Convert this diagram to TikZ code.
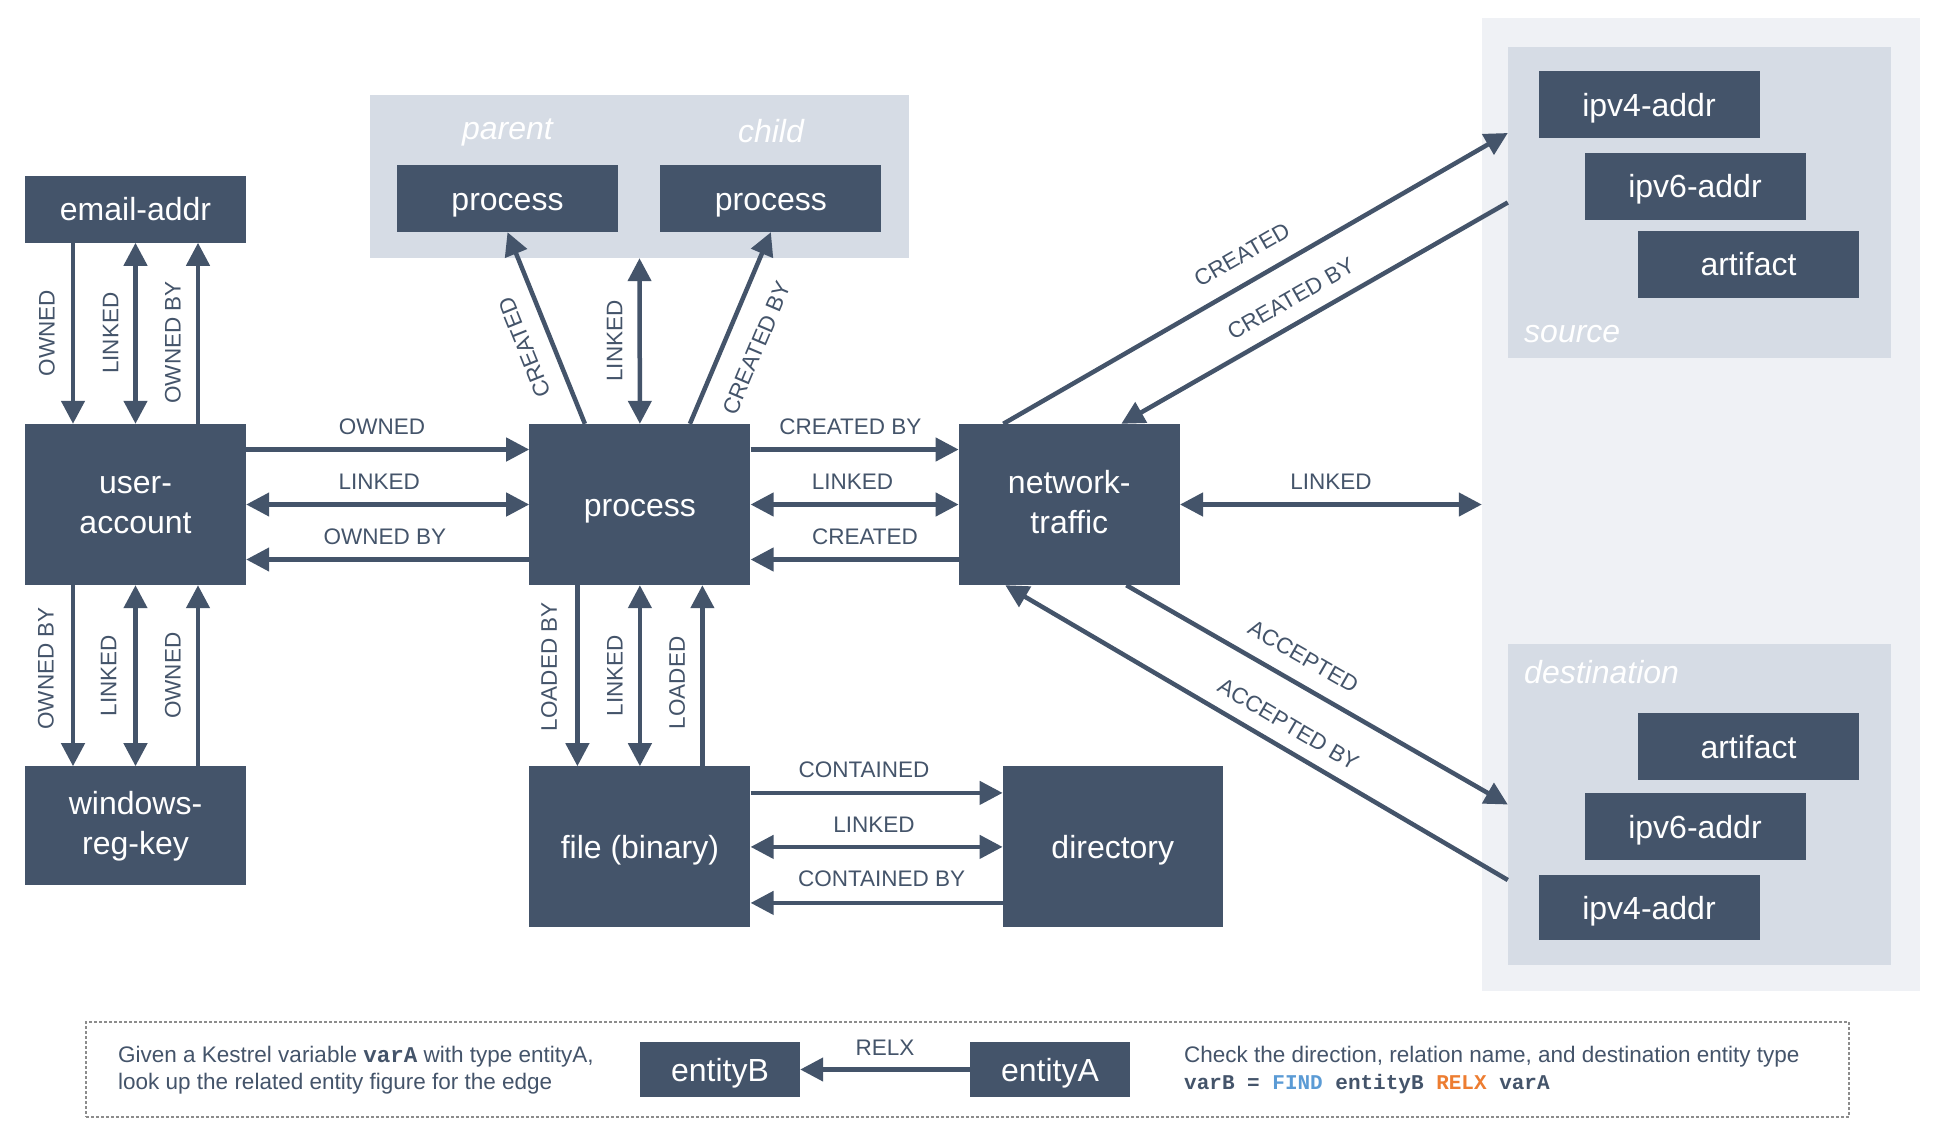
\documentclass[tikz,border=0pt]{standalone}
\usepackage{fontspec}
\setmainfont{Liberation Sans}
\setmonofont{Liberation Mono}
\usepackage{xcolor}
\definecolor{slate}{HTML}{44546A}
\definecolor{groupgray}{HTML}{D6DCE5}
\definecolor{outergray}{HTML}{EFF1F5}
\definecolor{findblue}{HTML}{5B9BD5}
\definecolor{relxorange}{HTML}{ED7D31}
\definecolor{dashgray}{HTML}{8C8C8C}
\usetikzlibrary{arrows.meta, positioning, calc}
\newcommand{\hiline}{\rule{0pt}{28pt}}
\newcommand{\loline}{\rule[-10pt]{0pt}{10pt}}

\begin{document}
\begin{tikzpicture}[
    x=1pt, y=-1pt,
    node distance=181pt,
    >={Triangle[length=23pt, width=23pt]},
    boxbase/.style={rectangle, fill=slate, text=white, minimum width=221pt, minimum height=67pt,
                    inner sep=0pt, font=\fontsize{32}{40}\selectfont},
    entity/.style={boxbase, text height=23pt, text depth=0pt},
    bigentity/.style={entity, minimum height=161pt},
    twoline/.style={boxbase, align=center, minimum height=161pt},
    group/.style={rectangle, fill=groupgray, inner sep=0pt},
    grouplabel/.style={text=white, inner sep=0pt, font=\fontsize{32}{38}\selectfont\itshape},
    rel/.style={draw=slate, line width=4.5pt},
    lbl/.style={text=slate, inner sep=1pt, font=\fontsize{22.5}{27}\selectfont},
    vlbl/.style={lbl, rotate=90, anchor=south, yshift=#1},
    vlbl/.default=14pt
]
    \useasboundingbox[fill=white] (0,0) rectangle (1935,1125);

    % Endpoint groups (drawn first, behind)
    \node[rectangle, fill=outergray, minimum width=438pt, minimum height=973pt, inner sep=0pt] (netends) at (1701,504.5) {};
    \node[group, minimum width=383pt, minimum height=311pt] (srcgroup) at (1699.5,202.5) {};
    \node[group, minimum width=383pt, minimum height=321pt] (dstgroup) at (1699.5,804.5) {};
    \node[group, minimum width=539pt, minimum height=163pt] (procgroup) at (639.5,176.5) {};

    % Main entities
    \node[twoline] (useracct) at (135.5,504.5) {\hiline user-\\account\loline};
    \node[entity, above=of useracct] (emailaddr) {email-addr};
    \node[twoline, minimum height=119pt, below=of useracct] (winregkey) {\hiline windows-\\reg-key\loline};
    \node[bigentity, right=283pt of useracct] (proc) {process};
    \node[twoline, right=208pt of proc] (nettraffic) {\hiline network-\\traffic\loline};
    \node[bigentity, below=of proc] (filebin) {file (binary)};
    \node[bigentity, minimum width=220pt, right=252pt of filebin] (directory) {directory};

    % Parent / child process
    \node[entity] (procparent) at (507.5,198.5) {process};
    \node[entity, right=42pt of procparent] (procchild) {process};
    \node[grouplabel, anchor=base] (parentlbl) at ([yshift=25pt]procparent.north) {parent};
    \node[grouplabel, anchor=base] (childlbl) at ([yshift=22pt]procchild.north) {child};

    % Source endpoints
    \node[entity] (srcipv4) at (1649,104.5) {ipv4-addr};
    \node[entity] (srcipv6) at (1695,186) {ipv6-addr};
    \node[entity] (srcartifact) at (1748.5,264) {artifact};
    \node[grouplabel, anchor=base west] (srclbl) at (1524,342) {source};

    % Destination endpoints
    \node[entity] (dstartifact) at (1748.5,746.5) {artifact};
    \node[entity] (dstipv6) at (1695,826.5) {ipv6-addr};
    \node[entity, minimum height=65pt] (dstipv4) at (1649,907.5) {ipv4-addr};
    \node[grouplabel, anchor=base west] (dstlbl) at (1524,683) {destination};

    % email-addr -- user-account
    \draw[rel, ->] ([xshift=-62.5pt]emailaddr.south) -- node[vlbl=15pt] {OWNED} ([xshift=-62.5pt]useracct.north);
    \draw[rel, <->] (emailaddr.south) -- node[vlbl] {LINKED} (useracct.north);
    \draw[rel, <-] ([xshift=62.5pt]emailaddr.south) -- node[vlbl, pos=0.55] {OWNED BY} ([xshift=62.5pt]useracct.north);

    % user-account -- windows-reg-key
    \draw[rel, ->] ([xshift=-62.5pt]useracct.south) -- node[vlbl=16pt, pos=0.46] {OWNED BY} ([xshift=-62.5pt]winregkey.north);
    \draw[rel, <->] (useracct.south) -- node[vlbl=16pt] {LINKED} (winregkey.north);
    \draw[rel, <-] ([xshift=62.5pt]useracct.south) -- node[vlbl] {OWNED} ([xshift=62.5pt]winregkey.north);

    % user-account -- process
    \draw[rel, ->] ([yshift=55pt]useracct.east) -- node[lbl, above=12pt, pos=0.48] {OWNED} ([yshift=55pt]proc.west);
    \draw[rel, <->] (useracct.east) -- node[lbl, above=12pt, pos=0.47] {LINKED} (proc.west);
    \draw[rel, <-] ([yshift=-55pt]useracct.east) -- node[lbl, above=12pt, pos=0.49] {OWNED BY} ([yshift=-55pt]proc.west);

    % process -- parent / child
    \draw[rel, ->] ([xshift=-55pt]proc.north) -- node[lbl, sloped, allow upside down, above=16pt, pos=0.45] {CREATED} (procparent.south);
    \draw[rel, <->] (proc.north) -- node[vlbl] {LINKED} (procgroup.south);
    \draw[rel, ->] ([xshift=50pt]proc.north) -- node[lbl, sloped, below=21pt, pos=0.46] {CREATED BY} (procchild.south);

    % process -- network-traffic
    \draw[rel, ->] ([yshift=55pt]proc.east) -- node[lbl, above=12pt, pos=0.48] {CREATED BY} ([yshift=55pt]nettraffic.west);
    \draw[rel, <->] (proc.east) -- node[lbl, above=12pt, pos=0.49] {LINKED} (nettraffic.west);
    \draw[rel, <-] ([yshift=-55pt]proc.east) -- node[lbl, above=12pt, pos=0.55] {CREATED} ([yshift=-55pt]nettraffic.west);

    % process -- file (binary)
    \draw[rel, ->] ([xshift=-62.5pt]proc.south) -- node[vlbl=17pt, pos=0.45] {LOADED BY} ([xshift=-62.5pt]filebin.north);
    \draw[rel, <->] (proc.south) -- node[vlbl] {LINKED} (filebin.north);
    \draw[rel, <-] ([xshift=62.5pt]proc.south) -- node[vlbl, pos=0.54] {LOADED} ([xshift=62.5pt]filebin.north);

    % file (binary) -- directory
    \draw[rel, ->] ([yshift=54pt]filebin.east) -- node[lbl, above=12pt, pos=0.45] {CONTAINED} ([yshift=54pt]directory.west);
    \draw[rel, <->] (filebin.east) -- node[lbl, above=11pt, pos=0.49] {LINKED} (directory.west);
    \draw[rel, <-] ([yshift=-56pt]filebin.east) -- node[lbl, above=13pt, pos=0.52] {CONTAINED BY} ([yshift=-56pt]directory.west);

    % network-traffic -- endpoints
    \draw[rel, ->] ([xshift=-66pt]nettraffic.north) -- node[lbl, sloped, above=16pt, pos=0.5] {CREATED} ([yshift=69.5pt]srcgroup.west);
    \draw[rel, ->] (srcgroup.west) -- node[lbl, sloped, above=13pt, pos=0.53] {CREATED BY} ([xshift=52pt]nettraffic.north);
    \draw[rel, <->] (nettraffic.east) -- node[lbl, above=12pt] {LINKED} (netends.west);
    \draw[rel, ->] ([xshift=57pt]nettraffic.south) -- node[lbl, sloped, above=15pt, pos=0.43] {ACCEPTED} (dstgroup.west);
    \draw[rel, ->] ([yshift=-75.5pt]dstgroup.west) -- node[lbl, sloped, above=12pt, pos=0.46] {ACCEPTED BY} ([xshift=-64pt]nettraffic.south);

    % Legend
    \node[draw=dashgray, line width=1.8pt, dash pattern=on 3pt off 2pt, minimum width=1763pt,
          minimum height=95pt, inner sep=0pt] (legend) at (967.5,1069.5) {};
    \node[entity, minimum width=160pt, minimum height=55pt] (entityB) at (720,1069.5) {entityB};
    \node[entity, minimum width=160pt, minimum height=55pt] (entityA) at (1050,1069.5) {entityA};
    \draw[rel, ->] (entityA.west) -- node[lbl, above=11pt] {RELX} (entityB.east);
    \node[text=slate, anchor=west, align=left, inner sep=0pt, font=\fontsize{22.5}{27}\selectfont] (legendleft) at (118,1070)
        {Given a Kestrel variable \texttt{\bfseries varA} with type entityA,\\look up the related entity figure for the edge};
    \node[text=slate, anchor=west, align=left, inner sep=0pt, font=\fontsize{22.5}{27}\selectfont] (legendright) at (1184,1070)
        {Check the direction, relation name, and destination entity type\\
         {\ttfamily\bfseries\fontsize{21}{27}\selectfont varB = \textcolor{findblue}{FIND} entityB \textcolor{relxorange}{RELX} varA}};
\end{tikzpicture}
\end{document}
